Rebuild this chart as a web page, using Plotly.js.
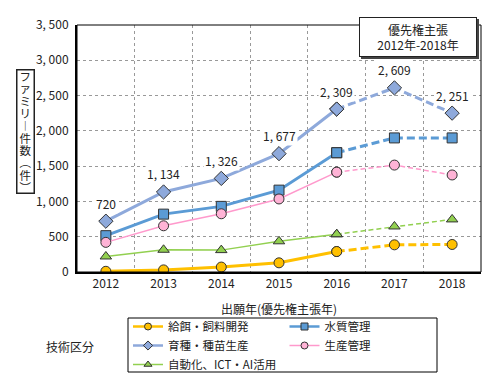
<!DOCTYPE html>
<html>
<head>
<meta charset="utf-8">
<script src="https://cdn.plot.ly/plotly-3.0.1.min.js"></script>
<style>html,body{margin:0;padding:0;background:#fff;}#chart{width:490px;height:387px;}</style>
</head>
<body>
<div id="chart"></div>
<script>
// ---- data ----
const years = ['2012', '2013', '2014', '2015', '2016', '2017', '2018'];
const seriesNames = ['給餌・飼料開発', '水質管理', '育種・種苗生産', '生産管理', '自動化、ICT・AI活用'];
const feeding   = [10, 30, 70, 130, 290, 385, 390];
const water     = [515, 820, 930, 1160, 1690, 1900, 1900];
const breeding  = [720, 1134, 1326, 1677, 2309, 2609, 2251];
const prodMgmt  = [420, 655, 825, 1035, 1415, 1515, 1375];
const automation= [220, 315, 310, 435, 535, 645, 745];
const yTickVals = [0, 500, 1000, 1500, 2000, 2500, 3000, 3500];
const yTickText = ['0', '500', '1, 000', '1, 500', '2, 000', '2, 500', '3, 000', '3, 500'];
const xTitle = '出願年(優先権主張年)';
const yTitleChars = ['フ', 'ァ', 'ミ', 'リ', '︱', '件', '数', '︵', '件', '︶'];
const insetText = '優先権主張<br>2012年-2018年';
const legendLabel = '技術区分';

// ---- styles ----
const FONT = '"Noto Sans CJK JP", "Noto Sans", sans-serif';
const styles = [
  {line: '#FFC000', fill: '#FFC000', width: 3,   symbol: 'circle'},
  {line: '#5B9BD5', fill: '#5B9BD5', width: 3,   symbol: 'square'},
  {line: '#8EA9DB', fill: '#8EA9DB', width: 3,   symbol: 'diamond'},
  {line: '#FF99CC', fill: '#FFB3D6', width: 1.5, symbol: 'circle'},
  {line: '#92D050', fill: '#92D050', width: 1.5, symbol: 'triangle-up'}
];
const allSeries = [feeding, water, breeding, prodMgmt, automation];

const L = 77, R = 9, T = 25, B = 115;
const W = 490, H = 387;
const pw = W - L - R, ph = H - T - B;
const px = x => (x - L) / pw;
const py = y => (H - B - y) / ph;

const traces = [];
allSeries.forEach((vals, i) => {
  const s = styles[i];
  const marker = {symbol: s.symbol, size: s.symbol === 'diamond' ? 11 : 10, color: s.fill, line: {color: '#333', width: 1}};
  traces.push({
    type: 'scatter', mode: 'lines+markers', name: seriesNames[i], legendgroup: 'g' + i, showlegend: false,
    x: years.slice(0, 5), y: vals.slice(0, 5),
    line: {color: s.line, width: s.width}, marker: marker, hoverinfo: 'x+y'
  });
  traces.push({
    type: 'scatter', mode: 'lines+markers', name: seriesNames[i], legendgroup: 'g' + i, showlegend: false,
    x: years.slice(4), y: vals.slice(4),
    line: {color: s.line, width: s.width, dash: s.width > 2 ? '8px,4px' : '5px,3px'}, marker: marker, hoverinfo: 'x+y'
  });
});
// legend-only entries (smaller symbols like the reference legend)
allSeries.forEach((vals, i) => {
  const s = styles[i];
  traces.push({
    type: 'scatter', mode: 'lines+markers', name: seriesNames[i], legendgroup: 'g' + i, showlegend: true,
    x: [null], y: [null],
    line: {color: s.line, width: Math.min(s.width, 2.5)},
    marker: {symbol: s.symbol, size: 7, color: s.fill, line: {color: '#333', width: 1}}, hoverinfo: 'skip'
  });
});

const fmt = v => v.toLocaleString('en-US').replace(',', ', ');
const annotations = breeding.map((v, i) => ({
  x: i, y: v, xref: 'x', yref: 'y', text: fmt(v), showarrow: false,
  xanchor: 'center', yanchor: 'middle',
  yshift: 18, bgcolor: '#fff', font: {family: FONT, size: 12, color: '#222'}, borderpad: 1
}));

// y-axis title (vertical, upright characters)
annotations.push({
  x: px(25), y: py(131), xref: 'paper', yref: 'paper', showarrow: false,
  text: yTitleChars.map(c => '<span style="font-size:11.5px">' + c + '</span>').join('<br>'),
  font: {family: FONT, size: 9.5, color: '#222'}, xanchor: 'center', yanchor: 'middle',
  width: 16, height: 122, bordercolor: '#222', borderwidth: 1.5, borderpad: 0, bgcolor: '#fff'
});

// inset box with shadow
annotations.push({x: px(418), y: py(37), xref: 'paper', yref: 'paper', text: ' ', showarrow: false,
  xanchor: 'center', yanchor: 'middle',
  width: 118, height: 40, bgcolor: '#444', xshift: 2, yshift: -2, borderpad: 0, borderwidth: 0});
annotations.push({x: px(418), y: py(37), xref: 'paper', yref: 'paper', text: insetText, showarrow: false,
  xanchor: 'center', yanchor: 'middle',
  width: 116, height: 38, bgcolor: '#fff', bordercolor: '#222', borderwidth: 1, borderpad: 0,
  font: {family: FONT, size: 12, color: '#222'}});

// legend label
annotations.push({x: px(70), y: py(346), xref: 'paper', yref: 'paper', text: legendLabel, showarrow: false,
  xanchor: 'center', yanchor: 'middle',
  font: {family: FONT, size: 12, color: '#222'}});

const shapes = [
  {type: 'rect', xref: 'paper', yref: 'paper', x0: 0, x1: 1, y0: 0, y1: 1, line: {color: '#000', width: 1}},
  {type: 'rect', xref: 'paper', yref: 'paper', x0: px(128), x1: px(437), y0: py(318), y1: py(372), line: {color: '#000', width: 1}, fillcolor: 'rgba(0,0,0,0)'}
];

const layout = {
  width: W, height: H,
  margin: {l: L, r: R, t: T, b: B, pad: 0, autoexpand: false},
  paper_bgcolor: '#fff', plot_bgcolor: '#fff',
  font: {family: FONT, size: 12, color: '#222'},
  showlegend: true,
  legend: {
    orientation: 'h', x: px(128), y: py(312), xanchor: 'left', yanchor: 'top',
    entrywidth: 111.5, entrywidthmode: 'pixels', itemwidth: 30,
    borderwidth: 0, bgcolor: 'rgba(0,0,0,0)',
    font: {family: FONT, size: 11.5, color: '#222'}, traceorder: 'normal'
  },
  xaxis: {
    type: 'category', range: [-0.5, 6.5], tickson: 'boundaries', ticks: '',
    showgrid: true, gridcolor: '#999', griddash: 'dot', gridwidth: 1,
    showline: true, linecolor: '#000', linewidth: 2, zeroline: false,
    tickfont: {family: FONT, size: 12, color: '#222'},
    title: {text: xTitle, font: {family: FONT, size: 12, color: '#222'}, standoff: 15},
    fixedrange: true
  },
  yaxis: {
    range: [0, 3500], tickvals: yTickVals, ticktext: yTickText, ticks: '',
    showgrid: true, gridcolor: '#999', griddash: 'dot', gridwidth: 1,
    showline: true, linecolor: '#000', linewidth: 2, zeroline: false,
    tickfont: {family: FONT, size: 12, color: '#222'}, ticklabelstandoff: 4,
    fixedrange: true
  },
  annotations: annotations,
  shapes: shapes
};

Plotly.newPlot('chart', traces, layout, {displayModeBar: false, staticPlot: true});
</script>
</body>
</html>
